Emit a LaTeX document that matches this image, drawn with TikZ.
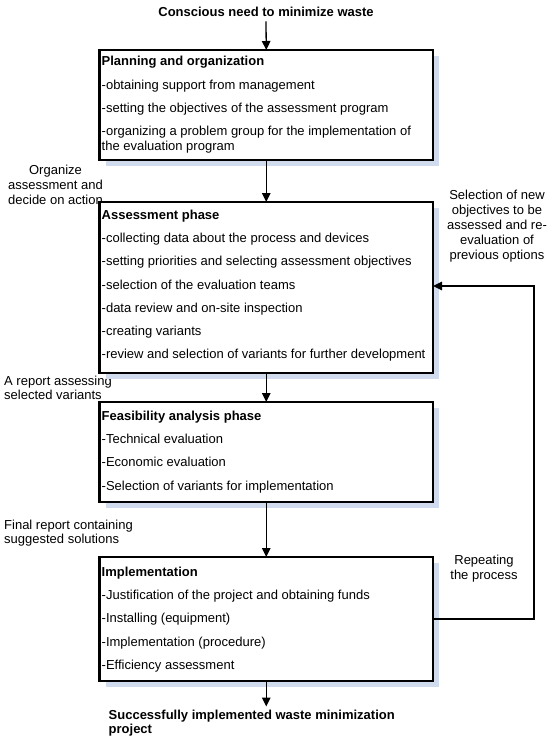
\documentclass[tikz,border=0pt]{standalone}
\usepackage{fontspec}
\setmainfont{Liberation Sans}
\usetikzlibrary{arrows.meta,shadows}
\definecolor{shadowblue}{RGB}{208,220,238}
\begin{document}
\begin{tikzpicture}[x=1pt,y=1pt,
  phase/.style={draw, line width=2.6pt, fill=white, minimum width=333.5pt,
    anchor=north west, inner sep=0pt, outer sep=0pt,
    general shadow={fill=shadowblue, shadow xshift=6pt, shadow yshift=-6pt}},
  body/.style={anchor=north west, inner sep=0pt, align=left,
    font=\fontsize{13}{15}\selectfont},
  lbl/.style={inner sep=0pt, font=\fontsize{13}{15}\selectfont},
  lblt/.style={inner sep=0pt, align=left, anchor=north west, font=\fontsize{13}{14}\selectfont},
  conn/.style={line width=1.3pt, -{Triangle[length=9pt,width=8.5pt]}}
]
\useasboundingbox (0,0) rectangle (550,-741);

% side labels
\node[lbl, align=center, anchor=north] (org) at (55.5,-164.5) {Organize\\assessment and\\decide on action};
\node[lbl, align=center, anchor=north] (sel) at (497,-189.5) {Selection of new\\objectives to be\\assessed and re-\\evaluation of\\previous options};
\node[lbl, align=center, anchor=north] (rep) at (484,-554.5) {Repeating\\the process};
\node[lblt] (rpt) at (4,-376.2) {A report assessing\\selected variants};
\node[lblt] (fin) at (4,-519.5) {Final report containing\\suggested solutions};

% title and end text
\node[lbl, anchor=base, font=\fontsize{13}{15}\selectfont\bfseries] (title) at (266,-17) {Conscious need to minimize waste};
\node[lblt, font=\fontsize{13}{14.4}\selectfont\bfseries] (succ) at (108.5,-709.5) {Successfully implemented waste minimization\\project};

% boxes
\node[phase, minimum height=110pt] (box1) at (99.5,-50) {};
\node[phase, minimum height=171pt] (box2) at (99.5,-202) {};
\node[phase, minimum height=100pt] (box3) at (99.5,-402) {};
\node[phase, minimum height=124pt] (box4) at (99.5,-557) {};

% box contents
\node[body] (t1) at (101.5,-56.2) {\textbf{Planning and organization}\\[8.3pt]
-obtaining support from management\\[8.3pt]
-setting the objectives of the assessment program\\[8.3pt]
-organizing a problem group for the implementation of\\
the evaluation program};
\node[body] (t2) at (101.5,-209.5) {\textbf{Assessment phase}\\[8.3pt]
-collecting data about the process and devices\\[8.3pt]
-setting priorities and selecting assessment objectives\\[8.3pt]
-selection of the evaluation teams\\[8.3pt]
-data review and on-site inspection\\[8.3pt]
-creating variants\\[8.3pt]
-review and selection of variants for further development};
\node[body] (t3) at (101.5,-410.5) {\textbf{Feasibility analysis phase}\\[8.3pt]
-Technical evaluation\\[8.3pt]
-Economic evaluation\\[8.3pt]
-Selection of variants for implementation};
\node[body] (t4) at (101.5,-566.5) {\textbf{Implementation}\\[8.3pt]
-Justification of the project and obtaining funds\\[8.3pt]
-Installing (equipment)\\[8.3pt]
-Implementation (procedure)\\[8.3pt]
-Efficiency assessment};

% connectors
\draw[conn] ([yshift=-4pt]title.south) -- (box1.north);
\draw[conn] (box1.south) -- (box2.north);
\draw[conn] (box2.south) -- (box3.north);
\draw[conn] (box3.south) -- (box4.north);
\draw[conn] (box4.south) -- ([yshift=3pt]box4.south |- succ.north);

\coordinate (lp1) at (534,-619);
\coordinate (lp2) at (534,-286);
\draw[conn] (box4.east |- lp1) -- (lp1) -- (lp2) -- (box2.east |- lp2);
\end{tikzpicture}
\end{document}
